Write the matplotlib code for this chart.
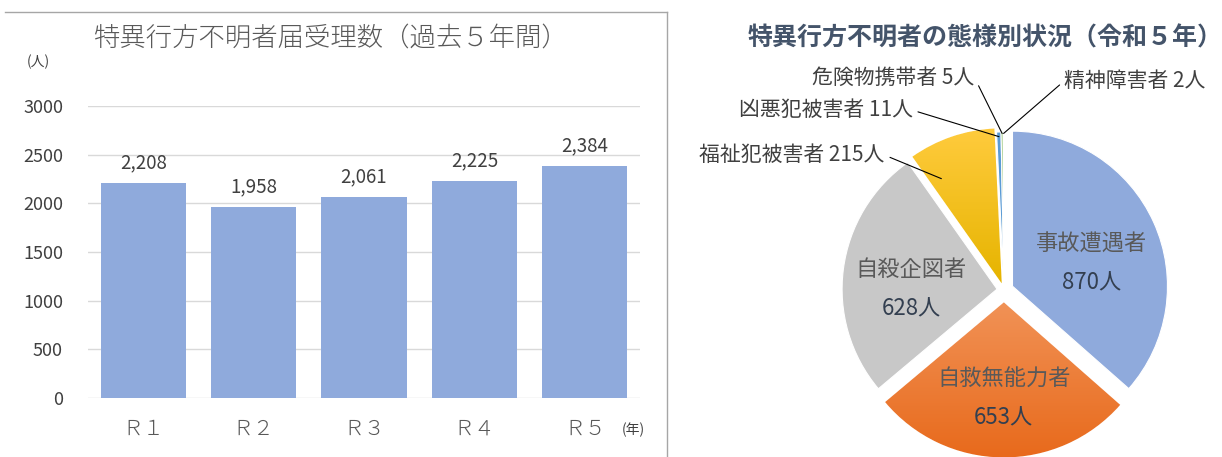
import numpy as np
import matplotlib
matplotlib.use("Agg")
import matplotlib.pyplot as plt
from matplotlib.lines import Line2D

plt.rcParams["font.family"] = ["Noto Sans CJK JP", "DejaVu Sans"]

# bar chart data
YEARS = ["Ｒ１", "Ｒ２", "Ｒ３", "Ｒ４", "Ｒ５"]
COUNTS = [2208, 1958, 2061, 2225, 2384]

# pie chart data (clockwise from 12 o'clock)
TYPES = ["事故遭遇者", "自救無能力者", "自殺企図者", "福祉犯被害者",
         "凶悪犯被害者", "危険物携帯者", "精神障害者"]
PEOPLE = [870, 653, 628, 215, 11, 5, 2]

PIE_COLORS = ["#8FAADC", "#EF7F35", "#C8C8C8", "#FFC000",
              "#5B9BD5", "#70AD47", "#264478"]
EXPLODE = [0.06, 0.08, 0.045, 0.045, 0.02, 0.02, 0.02]
# inner label placement: (radius, angle in deg) from wedge centre
INNER_LAB = [(0.53, 16), (0.62, -90), (0.555, 180)]
# outer label anchor (data units of pie axes), alignment
OUTER_POS = {3: (-0.77, 0.87, "right"), 4: (-0.59, 1.16, "right"),
             5: (-0.19, 1.37, "right"), 6: (0.39, 1.35, "left")}
# leader line end: (radius, angle shift from wedge middle)
OUTER_END = {3: (0.78, 11), 4: (0.97, 0), 5: (0.99, 0), 6: (0.99, 0)}

TXT = "#595959"
DARK = "#404040"

fig = plt.figure(figsize=(12.22, 4.57), dpi=100)

# frame around bar chart
fig.add_artist(Line2D([5 / 1222, 667 / 1222], [1 - 12 / 457, 1 - 12 / 457],
                      color="#A6A6A6", lw=1))
fig.add_artist(Line2D([667 / 1222, 667 / 1222], [0, 1 - 12 / 457],
                      color="#A6A6A6", lw=1))

# ---- bar chart ----
ax = fig.add_axes([88 / 1222, 59 / 457, 552 / 1222, 292 / 457])
x = np.arange(len(YEARS))
ax.bar(x, COUNTS, width=0.77, color="#8FAADC", zorder=2)
ax.set_xlim(-0.5, 4.5)
ax.set_ylim(0, 3000)
ax.set_yticks(range(0, 3001, 500))
ax.yaxis.grid(True, color="#D9D9D9", lw=1, zorder=0)
ax.set_axisbelow(True)
for s in ax.spines.values():
    s.set_visible(False)
ax.set_xticks(x)
ax.set_xticklabels(YEARS, fontweight="light")
ax.tick_params(axis="x", length=0, pad=14, labelsize=15, labelcolor=TXT)
ax.tick_params(axis="y", length=0, pad=18, labelsize=13, labelcolor=DARK)
for xi, v in zip(x, COUNTS):
    ax.annotate(f"{v:,}", (xi, v), xytext=(0, 7), textcoords="offset points",
                ha="center", va="bottom", fontsize=13.5, color=DARK)

fig.text(330 / 1222, 1 - 38 / 457, "特異行方不明者届受理数（過去５年間）",
         ha="center", va="center", fontsize=19, color=TXT, fontweight="light")
fig.text(38 / 1222, 1 - 62 / 457, "(人)", ha="center", va="center",
         fontsize=10, color=DARK)
fig.text(633 / 1222, 1 - 430 / 457, "(年)", ha="center", va="center",
         fontsize=10, color=DARK)

# ---- pie chart ----
size = 372
pax = fig.add_axes([(1004 - size / 2) / 1222, (457 - 290 - size / 2) / 457,
                    size / 1222, size / 457])
wedges, _ = pax.pie(PEOPLE, colors=PIE_COLORS, explode=EXPLODE,
                    startangle=90, counterclock=False,
                    wedgeprops=dict(edgecolor="white", linewidth=0.8))
pax.set_aspect("equal")

# gradients on orange and yellow wedges
grads = {1: ("#F19256", "#E86A1C"), 3: ("#FFCB3D", "#E6B400")}
for i, (top, bot) in grads.items():
    w = wedges[i]
    c1 = np.array(matplotlib.colors.to_rgb(top))
    c2 = np.array(matplotlib.colors.to_rgb(bot))
    t = np.linspace(0, 1, 100)[:, None]
    img = (c1 * (1 - t) + c2 * t)[:, None, :].repeat(2, axis=1)
    bb = w.get_path().get_extents()
    im = pax.imshow(img, extent=[bb.x0, bb.x1, bb.y0, bb.y1], origin="upper",
                    aspect="auto", zorder=w.get_zorder() + 0.1)
    im.set_clip_path(w)
pax.set_xlim(-1.2, 1.2)
pax.set_ylim(-1.2, 1.2)

for i, w in enumerate(wedges):
    mid = (w.theta1 + w.theta2) / 2
    cx, cy = w.center
    if i < 3:
        r, ang = INNER_LAB[i]
        ang = np.deg2rad(ang)
        lx, ly = cx + r * np.cos(ang), cy + r * np.sin(ang)
        pax.text(lx, ly + 0.125, TYPES[i], ha="center", va="center",
                 fontsize=16, color=TXT, zorder=5)
        pax.text(lx, ly - 0.125, f"{PEOPLE[i]}人", ha="center", va="center",
                 fontsize=16, color="#333F50", zorder=5)
    else:
        r, shift = OUTER_END[i]
        ang = np.deg2rad(mid + shift)
        px, py = cx + r * np.cos(ang), cy + r * np.sin(ang)
        tx, ty, ha = OUTER_POS[i]
        rel = (1, 0.5) if ha == "right" else (0, 0.5)
        pax.annotate(f"{TYPES[i]} {PEOPLE[i]}人", xy=(px, py), xytext=(tx, ty),
                     ha=ha, va="center", fontsize=15, color=DARK,
                     annotation_clip=False, zorder=6,
                     arrowprops=dict(arrowstyle="-", color="black", lw=0.8,
                                     shrinkA=2, shrinkB=0, relpos=rel))

fig.text(985 / 1222, 1 - 38 / 457, "特異行方不明者の態様別状況（令和５年）",
         ha="center", va="center", fontsize=18, color="#44546A",
         fontweight="bold")

fig.savefig("out.png", dpi=100)
